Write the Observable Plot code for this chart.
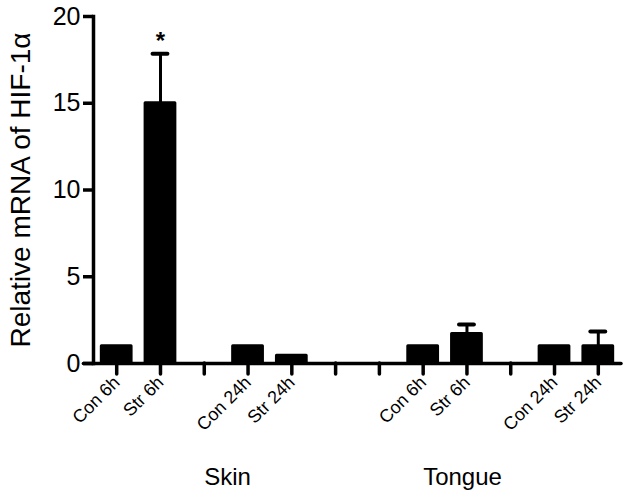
<!DOCTYPE html>
<html>
<head>
<meta charset="utf-8">
<script src="https://cdn.jsdelivr.net/npm/d3@7"></script>
<script src="https://cdn.jsdelivr.net/npm/@observablehq/plot@0.6"></script>
<style>
  html, body { margin: 0; padding: 0; background: #fff; }
</style>
</head>
<body>
<div id="chart"></div>
<script>
// Data
const slots = [0, 1, 3, 4, 7, 8, 10, 11];
const labels = ["Con 6h", "Str 6h", "Con 24h", "Str 24h", "Con 6h", "Str 6h", "Con 24h", "Str 24h"];
const means = [1, 15, 1, 0.45, 1, 1.7, 1, 1.0];
const errs = [0, 2.85, 0, 0, 0, 0.55, 0, 0.85];
const sig = ["", "*", "", "", "", "", "", ""];
const tickSlots = [0, 1, 2, 3, 4, 5, 6, 7, 8, 9, 10, 11];
const groups = ["Skin", "Tongue"];
const groupStart = [2, 7];
const yTicks = [0, 5, 10, 15, 20];
const yLabel = "Relative mRNA of HIF-1\u03B1";

const data = slots.map((s, i) => ({slot: s, label: labels[i], mean: means[i], err: errs[i], sig: sig[i]}));
const withErr = data.filter(d => d.err > 0);
const withSig = data.filter(d => d.sig);
const groupData = groups.map((g, i) => ({name: g, x: groupStart[i]}));
const labelOf = new Map(data.map(d => [d.slot, d.label]));

const chart = Plot.plot({
  width: 633,
  height: 502,
  marginLeft: 93,
  marginRight: 12,
  marginTop: 16,
  marginBottom: 139,
  style: {fontFamily: "'Liberation Sans', Arial, sans-serif", background: "#fff", color: "#000"},
  x: {type: "linear", domain: [-0.53, 11.53]},
  y: {domain: [0, 20]},
  marks: [
    // y axis line
    Plot.frame({anchor: "left", stroke: "#000", strokeWidth: 3.5}),
    Plot.axisY({ticks: yTicks, tickSize: 10, tickPadding: 3, fontSize: 25, stroke: "#000", strokeWidth: 3.5, label: null}),
    Plot.text([yLabel], {frameAnchor: "left", textAnchor: "middle", lineAnchor: "middle", rotate: -90, dx: -72, fontSize: 28, fill: "#000"}),
    // bars
    Plot.rect(data, {x1: d => d.slot - 0.34, x2: d => d.slot + 0.34, y1: 0, y2: "mean", fill: "#000", stroke: "#000", strokeWidth: 3, strokeLinejoin: "round"}),
    // error bars
    Plot.ruleX(withErr, {x: "slot", y1: "mean", y2: d => d.mean + d.err, stroke: "#000", strokeWidth: 3}),
    Plot.ruleY(withErr, {y: d => d.mean + d.err, x1: d => d.slot - 0.17, x2: d => d.slot + 0.17, stroke: "#000", strokeWidth: 4, strokeLinecap: "round"}),
    // significance
    Plot.text(withSig, {x: "slot", y: d => d.mean + d.err, text: "sig", dy: -12, fontSize: 24, fontWeight: "bold", fill: "#000"}),
    // x axis line
    Plot.ruleY([0], {x1: -0.75, x2: 11.53, stroke: "#000", strokeWidth: 3.5, strokeLinecap: "round"}),
    Plot.axisX({ticks: tickSlots, tickSize: 11, tickFormat: () => "", stroke: "#000", strokeWidth: 3.5, strokeLinecap: "round", label: null}),
    Plot.axisX({ticks: slots, tickSize: 11, tickPadding: 5, tickRotate: -45, tickFormat: d => labelOf.get(d), fontSize: 18, stroke: "none", label: null}),
    // group labels
    Plot.text(groupData, {x: "x", y: 0, text: "name", textAnchor: "start", dy: 114, fontSize: 24, fill: "#000"})
  ]
});
document.getElementById("chart").appendChild(chart);
</script>
</body>
</html>
